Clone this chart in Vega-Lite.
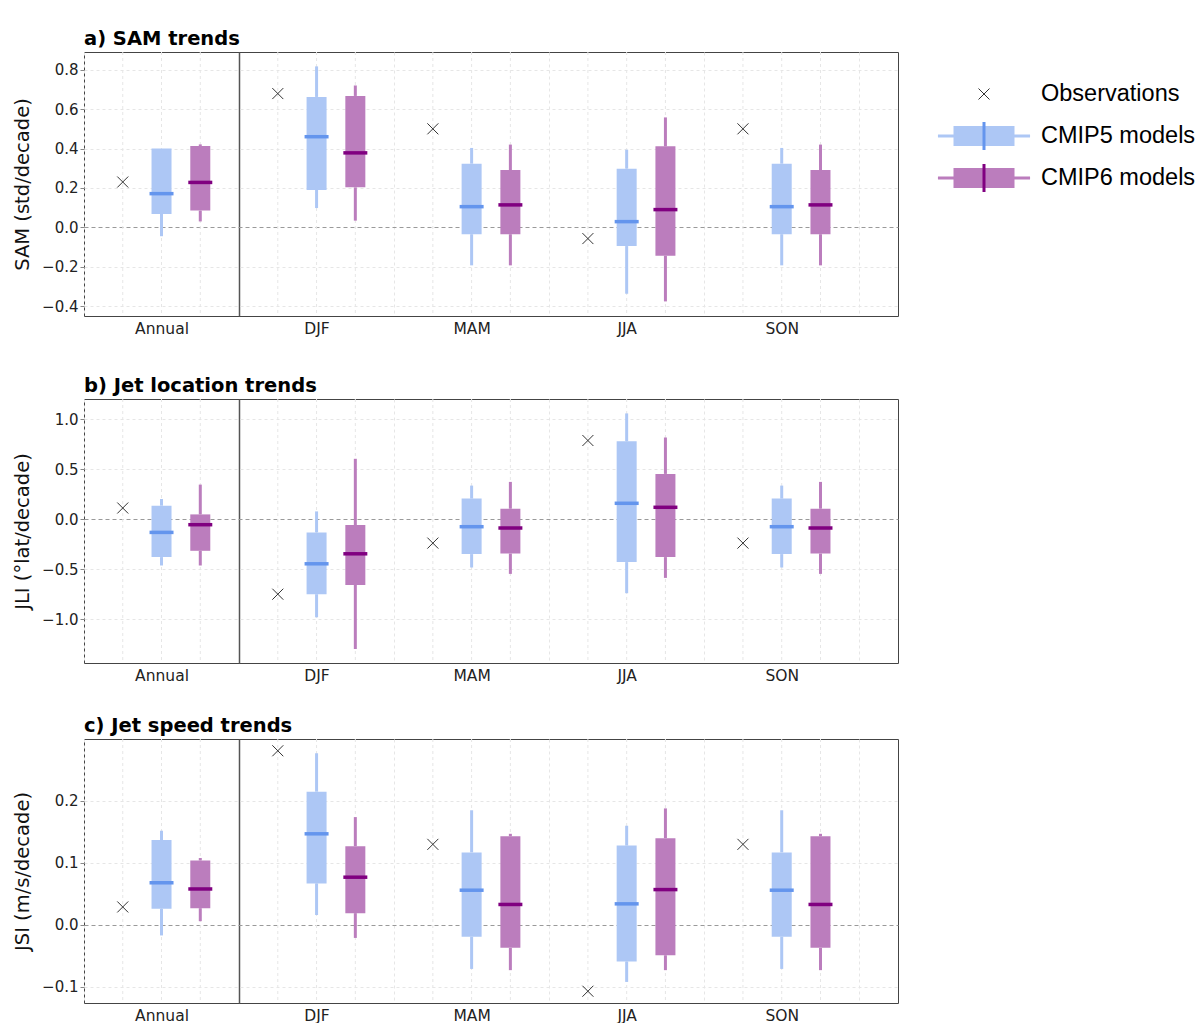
{
  "$schema": "https://vega.github.io/schema/vega-lite/v6.json",
  "padding": {"left": 12, "top": 28, "right": 0, "bottom": 0},
  "background": "white",
  "config": {
    "view": {"stroke": "#444", "strokeWidth": 1},
    "axis": {"labelFont": "DejaVu Sans", "titleFont": "DejaVu Sans", "labelColor": "#222", "titleColor": "#111"},
    "title": {"font": "DejaVu Sans", "fontSize": 19.5, "fontWeight": "bold", "anchor": "start", "frame": "group", "offset": 2, "color": "#000"}
  },
  "datasets": {
    "sam": [
      {"season": "Annual", "model": "Observations", "value": 0.23},
      {"season": "Annual", "model": "CMIP5", "lo": -0.045, "q1": 0.068, "med": 0.171, "q3": 0.4, "hi": 0.4},
      {"season": "Annual", "model": "CMIP6", "lo": 0.03, "q1": 0.085, "med": 0.228, "q3": 0.413, "hi": 0.421},
      {"season": "DJF", "model": "Observations", "value": 0.679},
      {"season": "DJF", "model": "CMIP5", "lo": 0.098, "q1": 0.19, "med": 0.46, "q3": 0.662, "hi": 0.817},
      {"season": "DJF", "model": "CMIP6", "lo": 0.034, "q1": 0.203, "med": 0.378, "q3": 0.667, "hi": 0.72},
      {"season": "MAM", "model": "Observations", "value": 0.5},
      {"season": "MAM", "model": "CMIP5", "lo": -0.193, "q1": -0.035, "med": 0.105, "q3": 0.323, "hi": 0.403},
      {"season": "MAM", "model": "CMIP6", "lo": -0.193, "q1": -0.035, "med": 0.114, "q3": 0.291, "hi": 0.42},
      {"season": "JJA", "model": "Observations", "value": -0.057},
      {"season": "JJA", "model": "CMIP5", "lo": -0.337, "q1": -0.095, "med": 0.029, "q3": 0.298, "hi": 0.394},
      {"season": "JJA", "model": "CMIP6", "lo": -0.376, "q1": -0.144, "med": 0.09, "q3": 0.411, "hi": 0.558},
      {"season": "SON", "model": "Observations", "value": 0.5},
      {"season": "SON", "model": "CMIP5", "lo": -0.193, "q1": -0.035, "med": 0.105, "q3": 0.323, "hi": 0.403},
      {"season": "SON", "model": "CMIP6", "lo": -0.193, "q1": -0.035, "med": 0.114, "q3": 0.291, "hi": 0.42}
    ],
    "jli": [
      {"season": "Annual", "model": "Observations", "value": 0.11},
      {"season": "Annual", "model": "CMIP5", "lo": -0.465, "q1": -0.381, "med": -0.134, "q3": 0.133, "hi": 0.2},
      {"season": "Annual", "model": "CMIP6", "lo": -0.465, "q1": -0.318, "med": -0.057, "q3": 0.046, "hi": 0.344},
      {"season": "DJF", "model": "Observations", "value": -0.752},
      {"season": "DJF", "model": "CMIP5", "lo": -0.983, "q1": -0.752, "med": -0.448, "q3": -0.134, "hi": 0.076},
      {"season": "DJF", "model": "CMIP6", "lo": -1.3, "q1": -0.659, "med": -0.348, "q3": -0.06, "hi": 0.602},
      {"season": "MAM", "model": "Observations", "value": -0.241},
      {"season": "MAM", "model": "CMIP5", "lo": -0.485, "q1": -0.351, "med": -0.077, "q3": 0.204, "hi": 0.334},
      {"season": "MAM", "model": "CMIP6", "lo": -0.549, "q1": -0.345, "med": -0.09, "q3": 0.103, "hi": 0.371},
      {"season": "JJA", "model": "Observations", "value": 0.785},
      {"season": "JJA", "model": "CMIP5", "lo": -0.742, "q1": -0.431, "med": 0.157, "q3": 0.778, "hi": 1.056},
      {"season": "JJA", "model": "CMIP6", "lo": -0.589, "q1": -0.381, "med": 0.117, "q3": 0.451, "hi": 0.815},
      {"season": "SON", "model": "Observations", "value": -0.241},
      {"season": "SON", "model": "CMIP5", "lo": -0.485, "q1": -0.351, "med": -0.077, "q3": 0.204, "hi": 0.334},
      {"season": "SON", "model": "CMIP6", "lo": -0.549, "q1": -0.345, "med": -0.09, "q3": 0.103, "hi": 0.371}
    ],
    "jsi": [
      {"season": "Annual", "model": "Observations", "value": 0.029},
      {"season": "Annual", "model": "CMIP5", "lo": -0.017, "q1": 0.026, "med": 0.068, "q3": 0.137, "hi": 0.152},
      {"season": "Annual", "model": "CMIP6", "lo": 0.006, "q1": 0.027, "med": 0.058, "q3": 0.104, "hi": 0.108},
      {"season": "DJF", "model": "Observations", "value": 0.281},
      {"season": "DJF", "model": "CMIP5", "lo": 0.016, "q1": 0.067, "med": 0.147, "q3": 0.215, "hi": 0.277},
      {"season": "DJF", "model": "CMIP6", "lo": -0.021, "q1": 0.019, "med": 0.077, "q3": 0.127, "hi": 0.174},
      {"season": "MAM", "model": "Observations", "value": 0.13},
      {"season": "MAM", "model": "CMIP5", "lo": -0.071, "q1": -0.019, "med": 0.056, "q3": 0.117, "hi": 0.185},
      {"season": "MAM", "model": "CMIP6", "lo": -0.073, "q1": -0.037, "med": 0.033, "q3": 0.143, "hi": 0.147},
      {"season": "JJA", "model": "Observations", "value": -0.107},
      {"season": "JJA", "model": "CMIP5", "lo": -0.092, "q1": -0.059, "med": 0.034, "q3": 0.128, "hi": 0.16},
      {"season": "JJA", "model": "CMIP6", "lo": -0.073, "q1": -0.049, "med": 0.057, "q3": 0.14, "hi": 0.188},
      {"season": "SON", "model": "Observations", "value": 0.13},
      {"season": "SON", "model": "CMIP5", "lo": -0.071, "q1": -0.019, "med": 0.056, "q3": 0.117, "hi": 0.185},
      {"season": "SON", "model": "CMIP6", "lo": -0.073, "q1": -0.037, "med": 0.033, "q3": 0.143, "hi": 0.147}
    ]
  },
  "hconcat": [
    {
      "spacing": 38,
      "vconcat": [
        {
          "data": {"name": "sam"},
          "width": 814, "height": 264,
          "title": "a) SAM trends",
          "encoding": {
            "x": {"field": "season", "type": "nominal", "scale": {"type": "band", "domain": ["Annual", "DJF", "MAM", "JJA", "SON"], "paddingInner": 0, "paddingOuter": 0.125, "align": 0},
              "axis": {"title": null, "labelAngle": 0, "labelFontSize": 15.5, "labelPadding": 5, "ticks": false, "domain": false, "tickBand": "extent", "grid": true,
                "gridColor": {"condition": {"test": "datum.value === 'Annual'", "value": "#555"}, "value": "#e6e6e6"},
                "gridDash": {"condition": {"test": "datum.value === 'Annual'", "value": []}, "value": [3, 3]},
                "gridWidth": {"condition": {"test": "datum.value === 'Annual'", "value": 1.5}, "value": 1}}},
            "xOffset": {"field": "model", "type": "nominal", "scale": {"type": "band", "domain": ["Observations", "CMIP5", "CMIP6"], "paddingInner": 0, "paddingOuter": 0.5}}
          },
          "layer": [
            {"mark": {"type": "rule", "color": "#e6e6e6", "strokeDash": [3, 3], "strokeWidth": 1}},
            {"mark": {"type": "rule", "strokeWidth": 3},
              "encoding": {
                "y": {"field": "lo", "type": "quantitative", "scale": {"domain": [-0.45, 0.89], "nice": false, "zero": false},
                  "axis": {"title": "SAM (std/decade)", "values": [-0.4, -0.2, 0, 0.2, 0.4, 0.6, 0.8], "format": ".1f", "labelFontSize": 15, "titleFontSize": 19.5, "titleFontWeight": "normal", "titlePadding": 9, "domain": false, "tickSize": 4, "tickColor": "#888", "grid": true,
                    "gridColor": {"condition": {"test": "datum.value === 0", "value": "#9a9a9a"}, "value": "#e6e6e6"},
                    "gridDash": {"condition": {"test": "datum.value === 0", "value": [4, 3]}, "value": [3, 3]}}},
                "y2": {"field": "q1"},
                "color": {"condition": {"test": "datum.model === 'CMIP5'", "value": "#adc7f5"}, "value": "#bb7dbd"}}},
            {"mark": {"type": "rule", "strokeWidth": 20, "strokeCap": "butt"},
              "encoding": {"y": {"field": "q1", "type": "quantitative"}, "y2": {"field": "q3"},
                "color": {"condition": {"test": "datum.model === 'CMIP5'", "value": "#adc7f5"}, "value": "#bb7dbd"}}},
            {"mark": {"type": "rule", "strokeWidth": 3},
              "encoding": {"y": {"field": "q3", "type": "quantitative"}, "y2": {"field": "hi"},
                "color": {"condition": {"test": "datum.model === 'CMIP5'", "value": "#adc7f5"}, "value": "#bb7dbd"}}},
            {"mark": {"type": "tick", "size": 24, "thickness": 3.5, "opacity": 1},
              "encoding": {"y": {"field": "med", "type": "quantitative"},
                "color": {"condition": {"test": "datum.model === 'CMIP5'", "value": "#6495ed"}, "value": "#800080"}}},
            {"mark": {"type": "point", "shape": "M-1,-1L1,1M-1,1L1,-1", "filled": false, "size": 121, "strokeWidth": 1, "color": "#333", "opacity": 1},
              "encoding": {"y": {"field": "value", "type": "quantitative"}}}
          ]
        },
        {
          "spacing": 31,
          "vconcat": [
            {
              "data": {"name": "jli"},
              "width": 814, "height": 264,
              "title": "b) Jet location trends",
              "encoding": {
                "x": {"field": "season", "type": "nominal", "scale": {"type": "band", "domain": ["Annual", "DJF", "MAM", "JJA", "SON"], "paddingInner": 0, "paddingOuter": 0.125, "align": 0},
                  "axis": {"title": null, "labelAngle": 0, "labelFontSize": 15.5, "labelPadding": 5, "ticks": false, "domain": false, "tickBand": "extent", "grid": true,
                    "gridColor": {"condition": {"test": "datum.value === 'Annual'", "value": "#555"}, "value": "#e6e6e6"},
                    "gridDash": {"condition": {"test": "datum.value === 'Annual'", "value": []}, "value": [3, 3]},
                    "gridWidth": {"condition": {"test": "datum.value === 'Annual'", "value": 1.5}, "value": 1}}},
                "xOffset": {"field": "model", "type": "nominal", "scale": {"type": "band", "domain": ["Observations", "CMIP5", "CMIP6"], "paddingInner": 0, "paddingOuter": 0.5}}
              },
              "layer": [
                {"mark": {"type": "rule", "color": "#e6e6e6", "strokeDash": [3, 3], "strokeWidth": 1}},
                {"mark": {"type": "rule", "strokeWidth": 3},
                  "encoding": {
                    "y": {"field": "lo", "type": "quantitative", "scale": {"domain": [-1.44, 1.2], "nice": false, "zero": false},
                      "axis": {"title": "JLI (°lat/decade)", "values": [-1, -0.5, 0, 0.5, 1], "format": ".1f", "labelFontSize": 15, "titleFontSize": 19.5, "titleFontWeight": "normal", "titlePadding": 9, "domain": false, "tickSize": 4, "tickColor": "#888", "grid": true,
                        "gridColor": {"condition": {"test": "datum.value === 0", "value": "#9a9a9a"}, "value": "#e6e6e6"},
                        "gridDash": {"condition": {"test": "datum.value === 0", "value": [4, 3]}, "value": [3, 3]}}},
                    "y2": {"field": "q1"},
                    "color": {"condition": {"test": "datum.model === 'CMIP5'", "value": "#adc7f5"}, "value": "#bb7dbd"}}},
                {"mark": {"type": "rule", "strokeWidth": 20, "strokeCap": "butt"},
                  "encoding": {"y": {"field": "q1", "type": "quantitative"}, "y2": {"field": "q3"},
                    "color": {"condition": {"test": "datum.model === 'CMIP5'", "value": "#adc7f5"}, "value": "#bb7dbd"}}},
                {"mark": {"type": "rule", "strokeWidth": 3},
                  "encoding": {"y": {"field": "q3", "type": "quantitative"}, "y2": {"field": "hi"},
                    "color": {"condition": {"test": "datum.model === 'CMIP5'", "value": "#adc7f5"}, "value": "#bb7dbd"}}},
                {"mark": {"type": "tick", "size": 24, "thickness": 3.5, "opacity": 1},
                  "encoding": {"y": {"field": "med", "type": "quantitative"},
                    "color": {"condition": {"test": "datum.model === 'CMIP5'", "value": "#6495ed"}, "value": "#800080"}}},
                {"mark": {"type": "point", "shape": "M-1,-1L1,1M-1,1L1,-1", "filled": false, "size": 121, "strokeWidth": 1, "color": "#333", "opacity": 1},
                  "encoding": {"y": {"field": "value", "type": "quantitative"}}}
              ]
            },
            {
              "data": {"name": "jsi"},
              "width": 814, "height": 264,
              "title": "c) Jet speed trends",
              "encoding": {
                "x": {"field": "season", "type": "nominal", "scale": {"type": "band", "domain": ["Annual", "DJF", "MAM", "JJA", "SON"], "paddingInner": 0, "paddingOuter": 0.125, "align": 0},
                  "axis": {"title": null, "labelAngle": 0, "labelFontSize": 15.5, "labelPadding": 5, "ticks": false, "domain": false, "tickBand": "extent", "grid": true,
                    "gridColor": {"condition": {"test": "datum.value === 'Annual'", "value": "#555"}, "value": "#e6e6e6"},
                    "gridDash": {"condition": {"test": "datum.value === 'Annual'", "value": []}, "value": [3, 3]},
                    "gridWidth": {"condition": {"test": "datum.value === 'Annual'", "value": 1.5}, "value": 1}}},
                "xOffset": {"field": "model", "type": "nominal", "scale": {"type": "band", "domain": ["Observations", "CMIP5", "CMIP6"], "paddingInner": 0, "paddingOuter": 0.5}}
              },
              "layer": [
                {"mark": {"type": "rule", "color": "#e6e6e6", "strokeDash": [3, 3], "strokeWidth": 1}},
                {"mark": {"type": "rule", "strokeWidth": 3},
                  "encoding": {
                    "y": {"field": "lo", "type": "quantitative", "scale": {"domain": [-0.126, 0.3], "nice": false, "zero": false},
                      "axis": {"title": "JSI (m/s/decade)", "values": [-0.1, 0, 0.1, 0.2], "format": ".1f", "labelFontSize": 15, "titleFontSize": 19.5, "titleFontWeight": "normal", "titlePadding": 9, "domain": false, "tickSize": 4, "tickColor": "#888", "grid": true,
                        "gridColor": {"condition": {"test": "datum.value === 0", "value": "#9a9a9a"}, "value": "#e6e6e6"},
                        "gridDash": {"condition": {"test": "datum.value === 0", "value": [4, 3]}, "value": [3, 3]}}},
                    "y2": {"field": "q1"},
                    "color": {"condition": {"test": "datum.model === 'CMIP5'", "value": "#adc7f5"}, "value": "#bb7dbd"}}},
                {"mark": {"type": "rule", "strokeWidth": 20, "strokeCap": "butt"},
                  "encoding": {"y": {"field": "q1", "type": "quantitative"}, "y2": {"field": "q3"},
                    "color": {"condition": {"test": "datum.model === 'CMIP5'", "value": "#adc7f5"}, "value": "#bb7dbd"}}},
                {"mark": {"type": "rule", "strokeWidth": 3},
                  "encoding": {"y": {"field": "q3", "type": "quantitative"}, "y2": {"field": "hi"},
                    "color": {"condition": {"test": "datum.model === 'CMIP5'", "value": "#adc7f5"}, "value": "#bb7dbd"}}},
                {"mark": {"type": "tick", "size": 24, "thickness": 3.5, "opacity": 1},
                  "encoding": {"y": {"field": "med", "type": "quantitative"},
                    "color": {"condition": {"test": "datum.model === 'CMIP5'", "value": "#6495ed"}, "value": "#800080"}}},
                {"mark": {"type": "point", "shape": "M-1,-1L1,1M-1,1L1,-1", "filled": false, "size": 121, "strokeWidth": 1, "color": "#333", "opacity": 1},
                  "encoding": {"y": {"field": "value", "type": "quantitative"}}}
              ]
            }
          ]
        }
      ]
    },
    {
      "data": {"values": [{"label": "Observations"}, {"label": "CMIP5 models"}, {"label": "CMIP6 models"}]},
      "width": 100, "height": 168,
      "view": {"stroke": null},
      "encoding": {"y": {"field": "label", "type": "nominal", "scale": {"type": "point", "domain": ["Observations", "CMIP5 models", "CMIP6 models"], "padding": 1}, "axis": null}},
      "layer": [
        {"transform": [{"filter": "datum.label !== 'Observations'"}],
          "mark": {"type": "point", "shape": "M-1.51,0H1.51", "filled": false, "strokeWidth": 3, "size": 3721, "opacity": 1},
          "encoding": {"color": {"condition": {"test": "datum.label === 'CMIP5 models'", "value": "#adc7f5"}, "value": "#bb7dbd"}}},
        {"transform": [{"filter": "datum.label !== 'Observations'"}],
          "mark": {"type": "point", "shape": "M-1,-0.33H1V0.33H-1Z", "filled": true, "size": 3721, "opacity": 1},
          "encoding": {"color": {"condition": {"test": "datum.label === 'CMIP5 models'", "value": "#adc7f5"}, "value": "#bb7dbd"}}},
        {"transform": [{"filter": "datum.label !== 'Observations'"}],
          "mark": {"type": "point", "shape": "M0,-0.46V0.46", "filled": false, "strokeWidth": 3, "size": 3721, "opacity": 1},
          "encoding": {"color": {"condition": {"test": "datum.label === 'CMIP5 models'", "value": "#6495ed"}, "value": "#800080"}}},
        {"transform": [{"filter": "datum.label === 'Observations'"}],
          "mark": {"type": "point", "shape": "M-1,-1L1,1M-1,1L1,-1", "filled": false, "size": 121, "strokeWidth": 1, "color": "#333", "opacity": 1}},
        {"mark": {"type": "text", "align": "left", "baseline": "middle", "dx": 57, "fontSize": 23.5, "font": "Liberation Sans", "color": "#000"},
          "encoding": {"text": {"field": "label"}}}
      ]
    }
  ],
  "spacing": 32
}
